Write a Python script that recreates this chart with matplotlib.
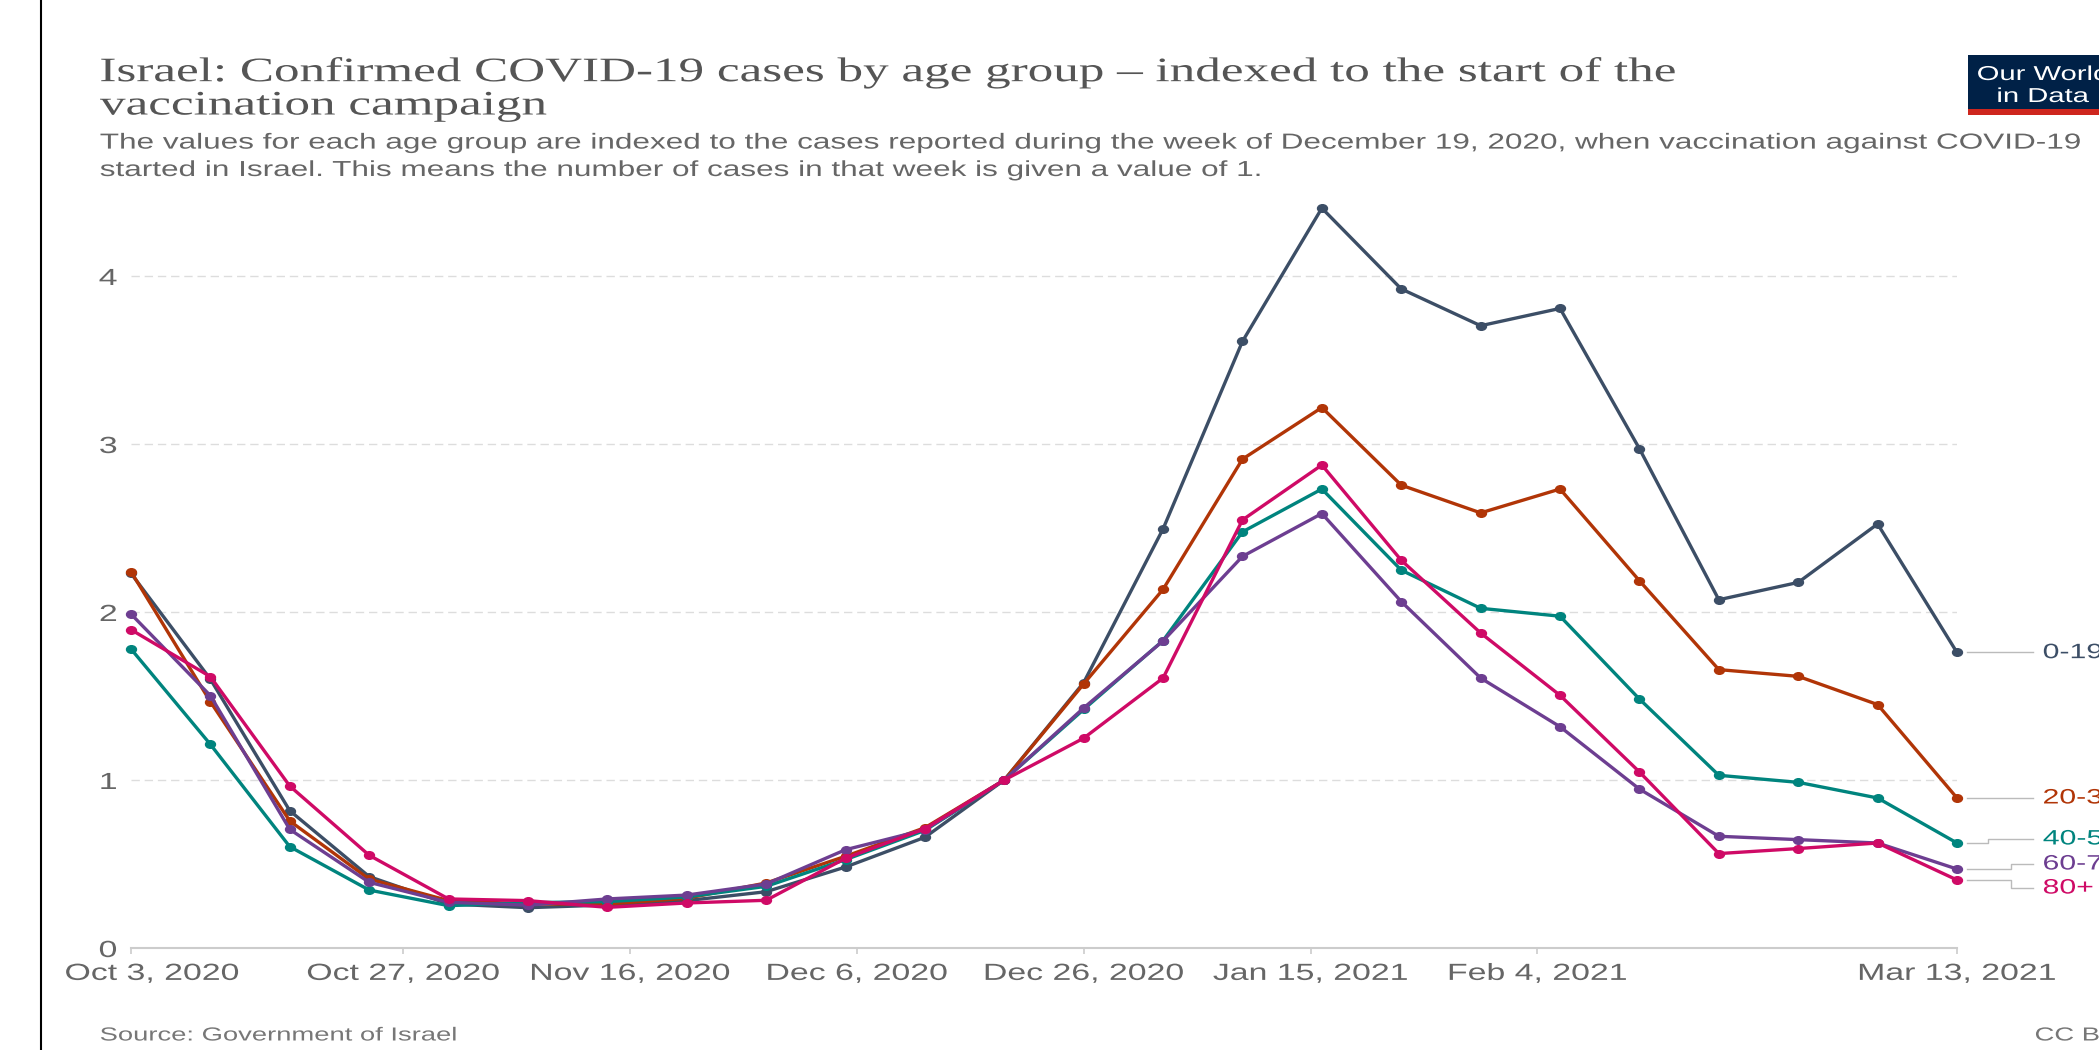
import numpy as np
import matplotlib
matplotlib.use("Agg")
import matplotlib.pyplot as plt
from matplotlib.patheffects import AbstractPathEffect
from matplotlib.transforms import Affine2D, ScaledTranslation, blended_transform_factory
from matplotlib.markers import MarkerStyle
from matplotlib.patches import Rectangle
from matplotlib.lines import Line2D

# weekly index values, week of Dec 19 2020 = 1
dates = np.arange(np.datetime64("2020-10-03"), np.datetime64("2021-03-14"), 7)

age_0_19 = [2.23, 1.60, 0.817, 0.425, 0.262, 0.24, 0.256, 0.282, 0.335, 0.482, 0.659, 1.0,
            1.58, 2.495, 3.611, 4.404, 3.923, 3.704, 3.807, 2.972, 2.073, 2.176, 2.524, 1.759]
age_20_39 = [2.24, 1.466, 0.756, 0.41, 0.282, 0.262, 0.262, 0.296, 0.387, 0.546, 0.716, 1.0,
             1.572, 2.135, 2.91, 3.217, 2.755, 2.59, 2.732, 2.186, 1.657, 1.617, 1.449, 0.893]
age_40_59 = [1.78, 1.212, 0.603, 0.345, 0.252, 0.27, 0.276, 0.304, 0.367, 0.526, 0.70, 1.0,
             1.42, 1.83, 2.477, 2.732, 2.249, 2.022, 1.975, 1.482, 1.028, 0.986, 0.893, 0.625]
age_60_79 = [1.988, 1.502, 0.706, 0.391, 0.272, 0.255, 0.292, 0.315, 0.381, 0.585, 0.704, 1.0,
             1.429, 1.828, 2.331, 2.586, 2.062, 1.607, 1.317, 0.946, 0.665, 0.645, 0.625, 0.47]
age_80_plus = [1.895, 1.615, 0.964, 0.552, 0.292, 0.282, 0.242, 0.268, 0.284, 0.534, 0.71, 1.0,
               1.249, 1.607, 2.548, 2.875, 2.308, 1.875, 1.504, 1.048, 0.562, 0.592, 0.625, 0.405]

groups = ["0-19", "20-39", "40-59", "60-79", "80+"]
series = [age_0_19, age_20_39, age_40_59, age_60_79, age_80_plus]
colors = ["#3C4E66", "#B13507", "#00847E", "#6D3E91", "#CF0A66"]
# where the end labels sit (spread apart so they don't collide)
label_y = [1.758, 0.893, 0.649, 0.50, 0.357]

tick_dates = np.array(["2020-10-03", "2020-10-27", "2020-11-16", "2020-12-06",
                       "2020-12-26", "2021-01-15", "2021-02-04", "2021-03-13"],
                      dtype="datetime64[D]")
tick_labels = ["Oct 3, 2020", "Oct 27, 2020", "Nov 16, 2020", "Dec 6, 2020",
               "Dec 26, 2020", "Jan 15, 2021", "Feb 4, 2021", "Mar 13, 2021"]

title = ("Israel: Confirmed COVID-19 cases by age group \u2013 indexed to the start of the\n"
         "vaccination campaign")
subtitle = ("The values for each age group are indexed to the cases reported during the week of "
            "December 19, 2020, when vaccination against COVID-19\n"
            "started in Israel. This means the number of cases in that week is given a value of 1.")


class Widen(AbstractPathEffect):
    """Draw text stretched horizontally about its left / centre / right edge."""

    def __init__(self, sx, anchor="left"):
        super().__init__()
        self.sx = sx
        self.anchor = anchor

    def draw_path(self, renderer, gc, tpath, affine, rgbFace=None):
        ext = tpath.get_extents(affine)
        x0 = {"left": ext.x0, "center": 0.5 * (ext.x0 + ext.x1), "right": ext.x1}[self.anchor]
        stretch = Affine2D().translate(-x0, 0).scale(self.sx, 1).translate(x0, 0)
        renderer.draw_path(gc, tpath, affine + stretch, rgbFace)


SX = 1.45
TS = 1.49

plt.rcParams["font.family"] = ["Liberation Sans", "DejaVu Sans"]

W, H = 2099, 1050
fig = plt.figure(figsize=(W / 100, H / 100), dpi=100)
ax = fig.add_axes([131 / W, (H - 948) / H, (1957 - 131) / W, (948 - 192) / H])

dot = MarkerStyle("o", transform=Affine2D().scale(1.3, 1))
for vals, col in zip(series, colors):
    ax.plot(dates, vals, color=col, lw=2.4, marker=dot, ms=5.5, mfc=col, mec=col,
            clip_on=False, zorder=3)

ax.set_xlim(dates[0], dates[-1])
ax.set_ylim(0, 4.5)
ax.set_yticks([0, 1, 2, 3, 4], ["0", "1", "2", "3", "4"])
ax.set_xticks(tick_dates, tick_labels)

for s in ["left", "right", "top"]:
    ax.spines[s].set_visible(False)
ax.spines["bottom"].set_color("#cccccc")
ax.spines["bottom"].set_linewidth(1.5)

ax.tick_params(axis="y", length=0, pad=10, labelsize=16.8, labelcolor="#666666")
ax.tick_params(axis="x", length=4, width=1.2, color="#cccccc", pad=6,
               labelsize=16.8, labelcolor="#666666")
ax.grid(axis="y", color="#dddddd", lw=1, linestyle=(0, (6, 3.5)))
ax.set_axisbelow(True)

for lab in ax.get_xticklabels():
    lab.set_path_effects([Widen(SX, "center")])
for lab in ax.get_yticklabels():
    lab.set_path_effects([Widen(SX, "right")])
first = ax.get_xticklabels()[0]
first.set_ha("left")
first.set_path_effects([Widen(SX, "left")])
first.set_transform(first.get_transform() + ScaledTranslation(-0.66, 0, fig.dpi_scale_trans))

# end-of-line labels with connector lines
trans = blended_transform_factory(ax.transAxes, ax.transData)
step_x = [None, None, 1.017, 1.0296, 1.0296]
for name, vals, col, ly, sx in zip(groups, series, colors, label_y, step_x):
    y0 = vals[-1]
    if sx is None:
        xs, ys = [1.0055, 1.0416], [y0, y0]
    else:
        xs, ys = [1.0055, sx, sx, 1.0416], [y0, y0, ly, ly]
    ax.plot(xs, ys, color="#bbbbbb", lw=1, transform=trans, clip_on=False)
    ax.text(1.0471, ly, name, transform=trans, color=col, fontsize=15, va="center",
            ha="left", path_effects=[Widen(SX, "left")])

# multi-line texts: y is the baseline of the last line
fig.text(100 / W, 1 - 114.5 / H, title, family="Liberation Serif", fontsize=24.7, color="#555555",
         va="baseline", ha="left", linespacing=1.12, path_effects=[Widen(TS, "left")])
fig.text(100 / W, 1 - 176 / H, subtitle, fontsize=15.65, color="#666666", va="baseline",
         ha="left", linespacing=1.40, path_effects=[Widen(SX, "left")])

fig.text(100 / W, 1 - 1040.5 / H, "Source: Government of Israel", fontsize=13.6, color="#777777",
         va="baseline", path_effects=[Widen(SX, "left")])
fig.text(2035 / W, 1 - 1040.5 / H, "CC BY", fontsize=13.6, color="#777777",
         va="baseline", path_effects=[Widen(SX, "left")])

# logo box
fig.add_artist(Rectangle((1968 / W, 1 - 109 / H), 150 / W, 54 / H, transform=fig.transFigure,
                         color="#002147", lw=0))
fig.add_artist(Rectangle((1968 / W, 1 - 115 / H), 150 / W, 6 / H, transform=fig.transFigure,
                         color="#CE261E", lw=0))
fig.text(2043 / W, 1 - 80 / H, "Our World", ha="center", va="baseline", color="white",
         fontsize=14.5, path_effects=[Widen(SX, "center")])
fig.text(2043 / W, 1 - 102 / H, "in Data", ha="center", va="baseline", color="white",
         fontsize=14.5, path_effects=[Widen(SX, "center")])

fig.add_artist(Line2D([41 / W, 41 / W], [0, 1], transform=fig.transFigure, color="black", lw=1.5))

fig.savefig("out.png", dpi=100, facecolor="white")
